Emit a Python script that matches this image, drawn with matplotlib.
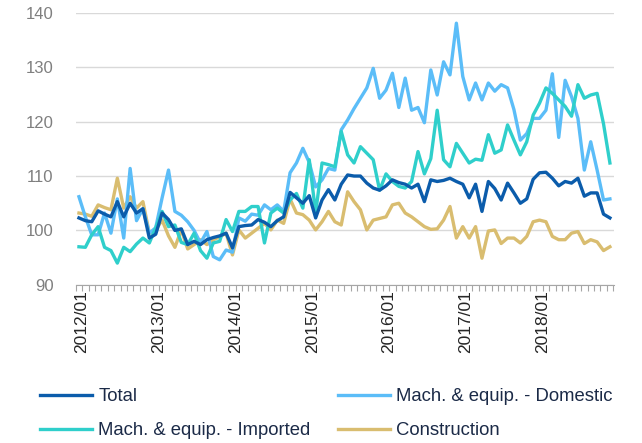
import numpy as np
import matplotlib
matplotlib.use('Agg')
import matplotlib.pyplot as plt
from matplotlib.transforms import ScaledTranslation

plt.rcParams['font.family'] = ['Liberation Sans', 'DejaVu Sans']

# monthly index values, 2012/01 - 2018/12
total = [102.3, 101.8, 101.6, 103.6, 103.0, 102.5, 105.3, 102.5, 105.0, 103.2,
         104.0, 98.6, 99.3, 103.2, 102.0, 100.0, 100.3, 97.4, 98.0, 97.4,
         98.3, 98.7, 99.0, 99.5, 96.8, 100.7, 100.9, 101.0, 102.0, 101.5,
         100.7, 101.8, 102.5, 107.0, 106.0, 105.0, 106.4, 102.3, 105.6, 107.5,
         105.6, 108.5, 110.2, 110.0, 110.0, 108.7, 107.8, 107.4, 108.2, 109.3,
         108.8, 108.5, 107.8, 108.5, 105.3, 109.3, 109.0, 109.2, 109.6, 109.0,
         108.5, 106.0, 108.5, 103.5, 109.0, 107.7, 105.6, 108.7, 106.9, 105.0,
         105.8, 109.4, 110.6, 110.7, 109.6, 108.2, 109.0, 108.7, 109.6, 106.3,
         106.9, 106.9, 103.0, 102.3]
domestic = [106.2, 102.5, 99.2, 99.2, 103.2, 99.5, 105.8, 98.6, 111.4, 101.8,
            104.0, 99.5, 100.5, 106.0, 111.1, 103.5, 102.8, 101.6, 100.0, 97.7,
            99.8, 95.2, 94.6, 96.4, 96.0, 102.3, 101.7, 103.0, 102.8, 104.7,
            103.8, 104.7, 103.5, 110.6, 112.4, 115.1, 112.5, 108.0, 109.3, 111.4,
            111.1, 118.5, 120.3, 122.4, 124.3, 126.2, 129.8, 124.3, 125.8, 128.9,
            122.6, 128.0, 122.1, 122.6, 119.8, 129.5, 124.9, 131.0, 128.6, 138.1,
            128.3, 124.0, 127.1, 124.0, 127.1, 125.6, 126.8, 126.2, 122.2, 116.6,
            117.8, 120.6, 120.6, 122.1, 128.8, 117.1, 127.6, 124.6, 120.6, 111.1,
            116.3, 111.1, 105.6, 105.8]
imported = [97.0, 96.9, 99.2, 100.7, 96.9, 96.3, 94.0, 96.9, 96.1, 97.5,
            98.6, 97.7, 100.5, 103.5, 100.7, 101.0, 97.8, 97.4, 99.5, 96.3,
            94.9, 97.7, 98.0, 102.0, 99.8, 103.5, 103.5, 104.4, 104.4, 97.7,
            103.2, 104.1, 103.2, 105.6, 106.8, 104.1, 113.0, 103.2, 112.4, 112.1,
            111.7, 118.2, 113.9, 112.4, 115.4, 114.2, 113.0, 107.4, 110.4, 109.0,
            108.1, 107.8, 109.0, 114.5, 110.4, 113.2, 122.1, 113.0, 111.7, 116.0,
            114.2, 112.4, 113.1, 112.9, 117.6, 114.2, 114.8, 119.4, 116.6, 113.9,
            116.3, 121.2, 123.4, 126.2, 125.2, 124.0, 122.8, 121.0, 126.8, 124.3,
            124.9, 125.2, 119.6, 112.4]
construction = [103.2, 103.0, 102.6, 104.7, 104.2, 103.8, 109.6, 104.1, 106.2, 104.1,
                105.3, 99.5, 100.1, 101.9, 99.0, 96.9, 100.1, 96.6, 97.4, 98.3,
                97.4, 98.3, 98.8, 99.5, 95.5, 100.1, 98.6, 99.5, 100.4, 101.3,
                100.1, 101.9, 101.3, 105.8, 103.2, 102.9, 101.9, 100.1, 101.6, 103.5,
                101.6, 101.0, 107.1, 105.3, 103.8, 100.1, 101.9, 102.2, 102.5, 104.7,
                105.0, 103.2, 102.5, 101.6, 100.7, 100.2, 100.3, 101.9, 104.4, 98.6,
                100.7, 98.6, 100.7, 94.9, 99.9, 100.1, 97.6, 98.6, 98.6, 97.7,
                98.9, 101.6, 101.9, 101.6, 98.9, 98.3, 98.3, 99.5, 99.8, 97.6,
                98.3, 97.9, 96.3, 97.0]
years = ['2012/01', '2013/01', '2014/01', '2015/01', '2016/01', '2017/01', '2018/01']

x = np.arange(len(total))

fig = plt.figure(figsize=(6.42, 4.43), dpi=100)
ax = fig.add_axes([0.118, 0.357, 0.838, 0.614])

lw = 2.4
l_tot, = ax.plot(x, total, color='#0b5cab', lw=lw, label='Total', zorder=5)
l_dom, = ax.plot(x, domestic, color='#5bbdf8', lw=lw, label='Mach. & equip. - Domestic', zorder=3)
l_imp, = ax.plot(x, imported, color='#2fcfcb', lw=lw, label='Mach. & equip. - Imported', zorder=4)
l_con, = ax.plot(x, construction, color='#d9bd70', lw=lw, label='Construction', zorder=2)

ax.set_ylim(90, 140)
ax.set_yticks(np.arange(90, 141, 10))
ax.set_xlim(-0.3, 83.6)
ax.grid(axis='y', color='#d9d9d9', lw=1)
ax.set_axisbelow(True)
for s in ['left', 'right', 'top']:
    ax.spines[s].set_visible(False)
ax.spines['bottom'].set_color('#a6a6a6')
ax.spines['bottom'].set_zorder(1)

ax.set_xticks(np.arange(0, 84, 12))
ax.set_xticklabels(years, rotation=90, fontsize=12.5, color='#262626')
ax.set_xticks(np.arange(-0.5, 84, 1), minor=True)
ax.tick_params(axis='x', which='major', length=0, pad=4)
ax.tick_params(axis='x', which='minor', length=4, color='#a6a6a6', width=0.8)
ax.tick_params(axis='y', length=0, pad=16, labelsize=12, labelcolor='#7f7f7f')
# labels sit a little right of the first point in the original
shift = ScaledTranslation(3 / 100, 0, fig.dpi_scale_trans)
for lab in ax.get_xticklabels():
    lab.set_transform(lab.get_transform() + shift)

# column-major order so rows read Total/Domestic, Imported/Construction
fig.legend([l_tot, l_imp, l_dom, l_con],
           [l.get_label() for l in (l_tot, l_imp, l_dom, l_con)],
           loc='upper left', bbox_to_anchor=(40 / 642, 1 - 388 / 443), ncol=2,
           frameon=False, fontsize=13.3, handlelength=2.8, handletextpad=0.35,
           columnspacing=1.5, labelspacing=0.93, borderpad=0, borderaxespad=0,
           labelcolor='#1b2a47')

fig.savefig('out.png', dpi=100)
